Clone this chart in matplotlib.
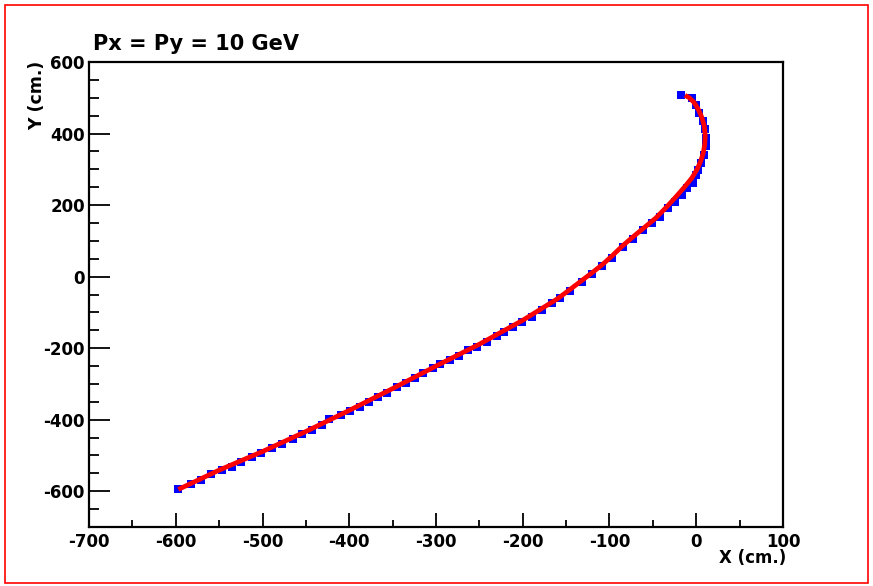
import matplotlib
matplotlib.use("Agg")
import matplotlib.pyplot as plt
from matplotlib.patches import Rectangle
from matplotlib.ticker import MultipleLocator

plt.rcParams['font.family'] = ['DejaVu Sans']
plt.rcParams['axes.unicode_minus'] = False

# Reconstructed hit positions along the track (cm)
hit_x = [-597.0, -582.8, -570.9, -559.4, -546.7, -535.5, -524.8, -512.5, -501.4,
         -489.4, -477.2, -465.2, -454.8, -443.3, -431.9, -423.0, -409.9, -399.2,
         -387.6, -376.9, -366.5, -356.9, -345.4, -334.6, -324.2, -314.6, -303.8,
         -295.4, -283.9, -273.1, -262.8, -252.4, -241.6, -230.1, -221.6, -210.9,
         -201.2, -189.8, -178.3, -166.7, -157.1, -145.0, -132.0, -120.0, -109.0,
         -97.0, -85.0, -73.0, -61.1, -51.4, -41.8, -32.2, -24.5, -16.8, -11.0,
         -3.4, -0.6, 2.4, 5.5, 8.6, 10.8, 11.5, 10.5, 7.5, 3.4, -0.5, -5.3, -17.6]
hit_y = [-594.0, -579.7, -568.6, -552.6, -540.6, -531.4, -517.4, -503.4, -492.2,
         -478.3, -468.8, -454.8, -440.8, -428.8, -414.8, -398.9, -386.8, -375.7,
         -363.6, -350.5, -335.6, -324.5, -309.4, -296.5, -284.3, -268.6, -256.3,
         -245.1, -233.1, -221.9, -205.1, -195.9, -182.0, -166.0, -154.0, -140.0,
         -126.0, -112.0, -93.3, -72.9, -60.6, -39.0, -16.0, 6.0, 29.0,
         53.0, 82.0, 106.0, 130.3, 149.1, 167.5, 191.0, 209.5, 228.2, 246.9,
         261.7, 284.9, 298.9, 317.6, 340.8, 365.2, 387.5, 412.7, 435.1, 457.4,
         478.4, 499.4, 506.9]

# Fitted trajectory (cm)
fit_x = [-597.0, -550.0, -500.0, -450.0, -400.0, -350.0, -300.0, -250.0, -200.0,
         -160.0, -145.0, -132.0, -120.0, -108.0, -97.0, -85.0, -73.0, -61.0,
         -47.0, -34.0, -22.0, -13.0, -5.0, 1.0, 5.0, 8.0, 9.8, 10.3, 9.3, 6.5,
         2.5, -2.5, -8.0, -13.0]
fit_y = [-595.0, -541.0, -489.0, -433.0, -374.0, -313.0, -250.0, -189.0, -122.0,
         -62.0, -35.0, -11.0, 11.0, 34.0, 58.0, 86.0, 111.0, 135.0,
         163.0, 195.0, 227.0, 252.0, 276.0, 300.0, 322.0, 345.0, 370.0, 395.0,
         420.0, 445.0, 467.0, 487.0, 500.0, 507.0]

x_ticks = [-700, -600, -500, -400, -300, -200, -100, 0, 100]
y_ticks = [-600, -400, -200, 0, 200, 400, 600]

W, H = 873, 586
fig = plt.figure(figsize=(W / 100, H / 100), dpi=100)
fig.patch.set_facecolor('white')

# canvas border
fig.patches.append(Rectangle((5 / W, 3 / H), (868 - 5) / W, (583 - 5) / H,
                             transform=fig.transFigure, fill=False,
                             edgecolor='#ff0000', linewidth=1.2))

ax = fig.add_axes([89 / W, 59 / H, (783 - 89) / W, (527 - 62) / H])
ax.plot(hit_x, hit_y, linestyle='none', marker='s', markersize=5.2,
        color='#0000ff', markeredgewidth=0, zorder=2)
ax.plot(fit_x, fit_y, color='#ff0000', linewidth=3.4, solid_capstyle='butt',
        solid_joinstyle='round', zorder=3)

ax.set_xlim(-700, 100)
ax.set_ylim(-700, 600)
ax.set_xticks(x_ticks)
ax.set_yticks(y_ticks)
ax.xaxis.set_minor_locator(MultipleLocator(50))
ax.yaxis.set_minor_locator(MultipleLocator(50))

for s in ax.spines.values():
    s.set_linewidth(1.6)
    s.set_color('black')

ax.tick_params(axis='both', which='both', direction='in', top=False, right=False,
               width=1.3, colors='black', labelsize=12)
ax.tick_params(axis='x', which='major', length=10, pad=4)
ax.tick_params(axis='x', which='minor', length=5)
ax.tick_params(axis='y', which='major', length=15, pad=3)
ax.tick_params(axis='y', which='minor', length=7.5)
for lab in ax.get_xticklabels() + ax.get_yticklabels():
    lab.set_fontweight('bold')

fig.text(93 / W, 1 - 50 / H, 'Px = Py = 10 GeV', ha='left', va='baseline',
         fontsize=15, fontweight='bold')
fig.text(786 / W, 1 - 558 / H, 'X (cm.)', ha='right', va='center',
         fontsize=12, fontweight='bold')
fig.text(37 / W, 1 - 61 / H, 'Y (cm.)', ha='center', va='top', rotation=90,
         fontsize=12.5, fontweight='bold')

fig.savefig('out.png', dpi=100)
